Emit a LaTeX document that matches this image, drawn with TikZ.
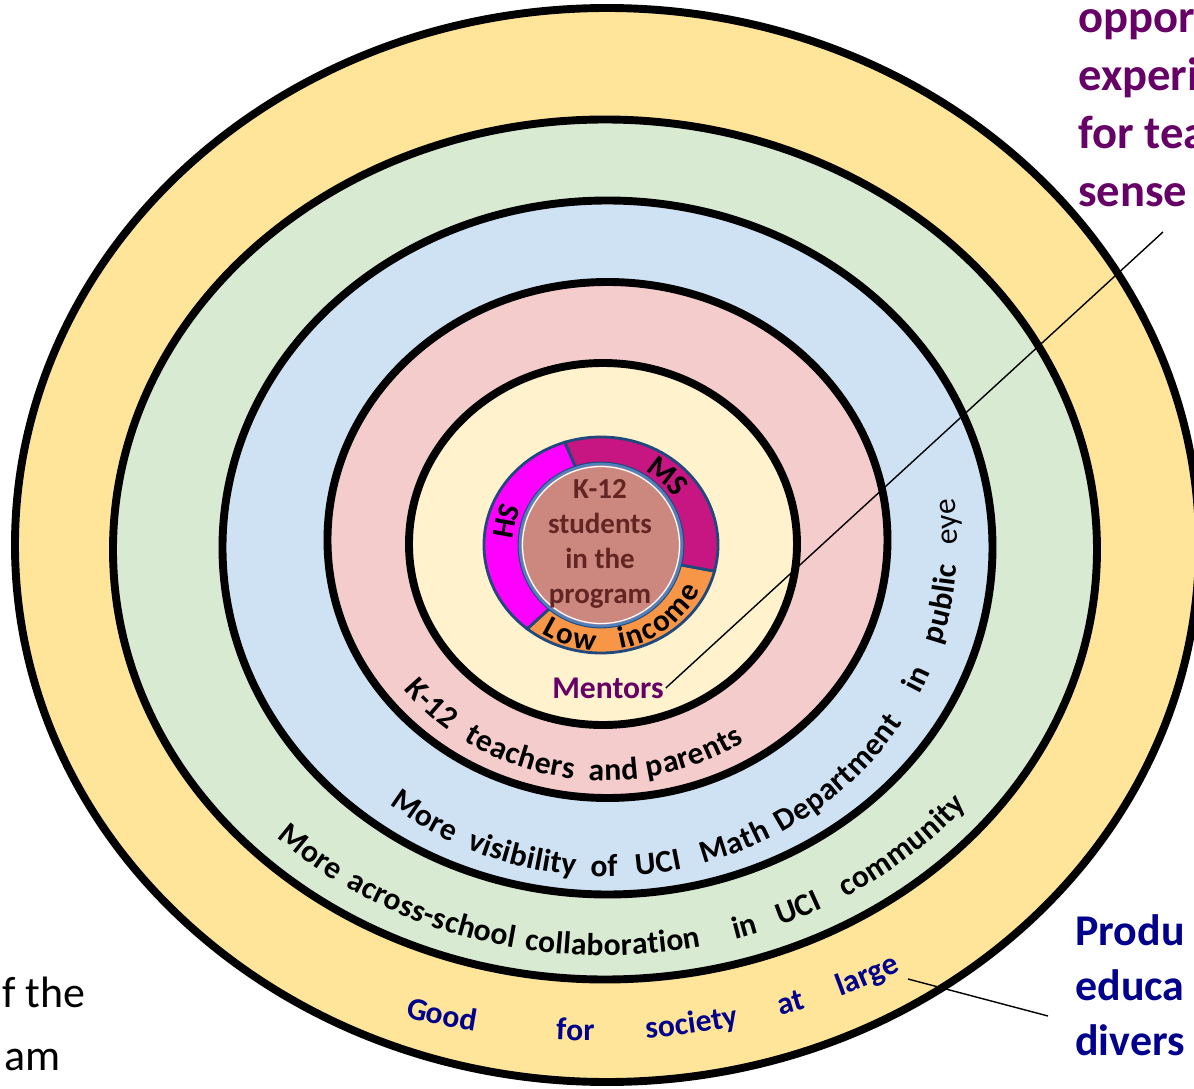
\documentclass[tikz,border=0pt]{standalone}
\usepackage{fontspec}
\setmainfont{Carlito}
\usetikzlibrary{decorations.text}

\definecolor{outeryellow}{RGB}{255,229,153}
\definecolor{bandgreen}{RGB}{217,234,211}
\definecolor{bandblue}{RGB}{207,226,243}
\definecolor{bandpink}{RGB}{244,204,204}
\definecolor{bandcream}{RGB}{255,242,204}
\definecolor{corefill}{RGB}{204,136,126}
\definecolor{coretext}{RGB}{99,37,35}
\definecolor{hsmag}{RGB}{255,0,255}
\definecolor{msmag}{RGB}{199,21,129}
\definecolor{lowor}{RGB}{247,150,70}
\definecolor{ringblue}{RGB}{31,73,125}
\definecolor{diskblue}{RGB}{79,129,189}
\definecolor{mentorpurple}{RGB}{102,0,102}
\definecolor{navytext}{RGB}{0,0,140}

\newcommand{\ringfont}{\fontsize{18}{20}\selectfont\bfseries}
\newcommand{\ringfontreg}{\fontsize{18}{20}\selectfont}
\newcommand{\navyfont}{\fontsize{18}{20}\selectfont\bfseries\color{navytext}}
\newcommand{\corefont}{\fontsize{17.5}{20}\selectfont\bfseries}

% one curved word: centre, x radius, y radius, mid angle, half span (negative = clockwise), format, word
\newcommand{\ringword}[7]{%
  \pgfmathsetmacro{\wordstart}{#4-(#5)}%
  \pgfmathsetmacro{\wordend}{#4+(#5)}%
  \path[decorate, decoration={text along path, text align=center, raise=-6pt, text={|#6|#7}}]
    ([shift={#1}]\wordstart:#2 and #3) arc[start angle=\wordstart, end angle=\wordend, x radius=#2, y radius=#3];}

\begin{document}
\begin{tikzpicture}[x=0.02cm, y=0.02cm,
  band/.style={draw=black, line width=4.5pt},
  segment/.style={draw=ringblue, line width=1.6pt},
  pointer/.style={draw=black, line width=0.8pt},
  bigpurple/.style={font=\fontsize{26.5}{31}\selectfont\bfseries, text=mentorpurple, inner sep=0pt, anchor=base west},
  bignavy/.style={font=\fontsize{25}{29}\selectfont\bfseries, text=navytext, inner sep=0pt, anchor=base west},
  leftnote/.style={font=\fontsize{25}{30}\selectfont, inner sep=0pt, anchor=base east}]

  \useasboundingbox (-605,-544) rectangle (589,545);

  % Rings, outside in
  \filldraw[band, fill=outeryellow] (2,0) ellipse [x radius=592, y radius=537];
  \filldraw[band, fill=bandgreen] (0,-4.5) ellipse [x radius=492, y radius=430];
  \filldraw[band, fill=bandblue] (2.5,-2.5) ellipse [x radius=385, y radius=347];
  \filldraw[band, fill=bandpink] (2.5,5) ellipse [x radius=280, y radius=258];
  \filldraw[band, fill=bandcream] (-2,1) ellipse [x radius=194, y radius=181];

  % Core ring: HS, low income, MS
  \filldraw[segment, fill=hsmag] ([shift={(-4,0)}]108:117 and 108) arc[start angle=108, end angle=231, x radius=117, y radius=108]
    -- ([shift={(-4,0)}]231:82) arc[start angle=231, end angle=108, radius=82] -- cycle;
  \filldraw[segment, fill=lowor] ([shift={(-4,0)}]231:117 and 108) arc[start angle=231, end angle=346, x radius=117, y radius=108]
    -- ([shift={(-4,0)}]346:82) arc[start angle=346, end angle=231, radius=82] -- cycle;
  \filldraw[segment, fill=msmag] ([shift={(-4,0)}]346:117 and 108) arc[start angle=346, end angle=468, x radius=117, y radius=108]
    -- ([shift={(-4,0)}]468:82) arc[start angle=468, end angle=346, radius=82] -- cycle;

  % Students disk
  \filldraw[fill=corefill, draw=diskblue, line width=1.5pt] (-4,0) circle [radius=81];
  \draw[white, line width=0.7pt] (-4,0) circle [radius=78.5];
  \node[align=center, font=\fontsize{16.5}{19.8}\selectfont\bfseries, text=coretext] (students) at (-5,1) {K-12\\students\\in the\\program};

  \ringword{(-4,0)}{99}{95}{165.7}{-35}{\corefont}{HS}
  \ringword{(-4,0)}{99}{95}{46.7}{-35}{\corefont}{MS}
  \ringword{(-4,0)}{99}{95}{251.8}{35}{\corefont}{Low}
  \ringword{(-4,0)}{99}{95}{308}{40}{\corefont}{income}

  % Mentors
  \node[font=\fontsize{18}{20}\selectfont\bfseries, text=mentorpurple, inner sep=1pt] (mentors) at (3,-143) {Mentors};

  % K-12 teachers and parents
  \ringword{(0,3)}{245}{228}{224.5}{30}{\ringfont}{K-12}
  \ringword{(0,3)}{245}{228}{249.4}{30}{\ringfont}{teachers}
  \ringword{(0,3)}{245}{228}{272}{30}{\ringfont}{and}
  \ringword{(0,3)}{245}{228}{291.7}{30}{\ringfont}{parents}

  % More visibility of UCI Math Department in public eye
  \ringword{(2,1)}{340}{322}{237.3}{30}{\ringfont}{More}
  \ringword{(2,1)}{340}{322}{255.4}{30}{\ringfont}{visibility}
  \ringword{(2,1)}{340}{322}{269.5}{30}{\ringfont}{of}
  \ringword{(2,1)}{340}{322}{278.7}{30}{\ringfont}{UCI}
  \ringword{(2,1)}{340}{322}{292.3}{30}{\ringfont}{Math}
  \ringword{(2,1)}{340}{322}{314}{30}{\ringfont}{Department}
  \ringword{(2,1)}{340}{322}{335.6}{30}{\ringfont}{in}
  \ringword{(2,1)}{340}{322}{349.4}{30}{\ringfont}{public}
  \ringword{(2,1)}{340}{322}{3.9}{30}{\ringfontreg}{eye}

  % More across-school collaboration in UCI community
  \ringword{(0,-5)}{455}{395}{228.8}{30}{\ringfont}{More}
  \ringword{(0,-5)}{455}{395}{246.8}{30}{\ringfont}{across-school}
  \ringword{(0,-5)}{455}{395}{271}{30}{\ringfont}{collaboration}
  \ringword{(0,-5)}{455}{395}{288.4}{30}{\ringfont}{in}
  \ringword{(0,-5)}{455}{395}{295.8}{30}{\ringfont}{UCI}
  \ringword{(0,-5)}{455}{395}{312}{30}{\ringfont}{community}

  % Good for society at large
  \ringword{(-15,15)}{605}{500}{255.6}{20}{\navyfont}{Good}
  \ringword{(-15,15)}{605}{500}{268.6}{20}{\navyfont}{for}
  \ringword{(-15,15)}{605}{500}{279.8}{20}{\navyfont}{society}
  \ringword{(-15,15)}{605}{500}{289.7}{20}{\navyfont}{at}
  \ringword{(-15,15)}{605}{500}{297.7}{20}{\navyfont}{large}

  % Side texts
  \node[bigpurple] (oppor) at (473,512) {oppor};
  \node[bigpurple] (experi) at (473,454) {experi};
  \node[bigpurple] (fortea) at (473,396) {for tea};
  \node[bigpurple] (sense) at (473,338) {sense};

  \node[bignavy] (produ) at (470,-400) {Produ};
  \node[bignavy] (educa) at (470,-455) {educa};
  \node[bignavy] (divers) at (470,-510) {divers};

  \node[leftnote] (fthe) at (-519,-462) {f the};
  \node[leftnote] (am) at (-544,-525) {am};

  % Pointer lines
  \coordinate (senseend) at (558,313);
  \draw[pointer] (mentors.east) -- (senseend);
  \coordinate (largeend) at (303,-434);
  \coordinate (educaend) at (443,-471);
  \draw[pointer] (largeend) -- (educaend);

\end{tikzpicture}
\end{document}
